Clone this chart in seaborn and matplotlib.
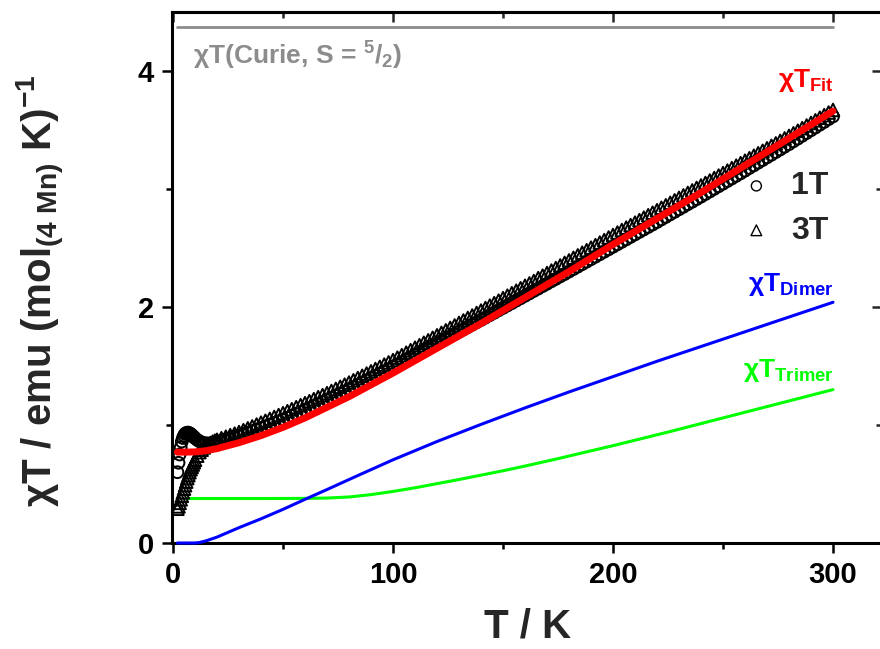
import matplotlib
matplotlib.use("Agg")
import matplotlib.pyplot as plt
from matplotlib import font_manager
from matplotlib.ticker import MultipleLocator
import seaborn as sns
import pandas as pd

# ---------------- data ----------------
T_data = [2, 2.5, 3, 3.5, 4, 4.5, 5, 5.5, 6, 6.5, 7, 7.5, 8, 8.5, 9, 9.5, 10,
          11, 12, 13, 14, 15, 16, 17, 18, 19, 20,
          22, 24, 26, 28, 30, 32, 34, 36, 38, 40,
          42, 44, 46, 48, 50, 52, 54, 56, 58, 60,
          62, 64, 66, 68, 70, 72, 74, 76, 78, 80,
          82, 84, 86, 88, 90, 92, 94, 96, 98, 100,
          102, 104, 106, 108, 110, 112, 114, 116, 118, 120,
          122, 124, 126, 128, 130, 132, 134, 136, 138, 140,
          142, 144, 146, 148, 150, 152, 154, 156, 158, 160,
          162, 164, 166, 168, 170, 172, 174, 176, 178, 180,
          182, 184, 186, 188, 190, 192, 194, 196, 198, 200,
          202, 204, 206, 208, 210, 212, 214, 216, 218, 220,
          222, 224, 226, 228, 230, 232, 234, 236, 238, 240,
          242, 244, 246, 248, 250, 252, 254, 256, 258, 260,
          262, 264, 266, 268, 270, 272, 274, 276, 278, 280,
          282, 284, 286, 288, 290, 292, 294, 296, 298, 300]

chiT_1T = [0.60, 0.68, 0.75, 0.81, 0.86, 0.89, 0.91, 0.925, 0.932, 0.935, 0.935, 0.93, 0.924, 0.916, 0.907, 0.898, 0.889,
           0.874, 0.862, 0.853, 0.847, 0.844, 0.843, 0.844, 0.846, 0.85, 0.855,
           0.866, 0.877, 0.888, 0.899, 0.91, 0.923, 0.936, 0.949, 0.962, 0.975,
           0.989, 1.003, 1.017, 1.031, 1.045, 1.061, 1.077, 1.093, 1.109, 1.125,
           1.142, 1.159, 1.176, 1.193, 1.21, 1.228, 1.246, 1.264, 1.282, 1.30,
           1.319, 1.338, 1.357, 1.376, 1.395, 1.414, 1.433, 1.452, 1.471, 1.49,
           1.51, 1.53, 1.55, 1.57, 1.59, 1.61, 1.63, 1.65, 1.67, 1.69,
           1.71, 1.73, 1.75, 1.77, 1.79, 1.81, 1.83, 1.85, 1.87, 1.89,
           1.91, 1.931, 1.951, 1.972, 1.992, 2.013, 2.033, 2.054, 2.074, 2.095,
           2.115, 2.136, 2.156, 2.177, 2.197, 2.218, 2.238, 2.259, 2.279, 2.30,
           2.321, 2.342, 2.363, 2.384, 2.405, 2.426, 2.447, 2.468, 2.489, 2.51,
           2.531, 2.552, 2.573, 2.594, 2.615, 2.636, 2.657, 2.678, 2.699, 2.72,
           2.742, 2.763, 2.785, 2.806, 2.828, 2.849, 2.871, 2.892, 2.914, 2.935,
           2.957, 2.979, 3.001, 3.023, 3.045, 3.067, 3.089, 3.111, 3.133, 3.155,
           3.178, 3.20, 3.223, 3.245, 3.268, 3.29, 3.313, 3.335, 3.358, 3.38,
           3.404, 3.427, 3.451, 3.474, 3.498, 3.521, 3.545, 3.568, 3.592, 3.615]

chiT_3T = [0.29, 0.31, 0.34, 0.37, 0.40, 0.43, 0.46, 0.49, 0.52, 0.55, 0.575, 0.60, 0.625, 0.645, 0.665, 0.685, 0.705,
           0.74, 0.77, 0.79, 0.81, 0.825, 0.837, 0.848, 0.858, 0.867, 0.875,
           0.888, 0.901, 0.914, 0.927, 0.94, 0.956, 0.972, 0.988, 1.004, 1.02,
           1.036, 1.052, 1.068, 1.084, 1.10, 1.117, 1.134, 1.151, 1.168, 1.185,
           1.202, 1.219, 1.236, 1.253, 1.27, 1.288, 1.306, 1.324, 1.342, 1.36,
           1.379, 1.398, 1.417, 1.436, 1.455, 1.474, 1.493, 1.512, 1.531, 1.55,
           1.571, 1.592, 1.613, 1.634, 1.655, 1.676, 1.697, 1.718, 1.739, 1.76,
           1.781, 1.802, 1.823, 1.844, 1.865, 1.886, 1.907, 1.928, 1.949, 1.97,
           1.991, 2.012, 2.033, 2.054, 2.075, 2.096, 2.117, 2.138, 2.159, 2.18,
           2.20, 2.22, 2.245, 2.266, 2.288, 2.309, 2.33, 2.352, 2.374, 2.395,
           2.417, 2.438, 2.46, 2.481, 2.503, 2.524, 2.546, 2.567, 2.589, 2.61,
           2.631, 2.652, 2.673, 2.694, 2.715, 2.736, 2.757, 2.778, 2.799, 2.82,
           2.841, 2.862, 2.883, 2.904, 2.925, 2.946, 2.967, 2.988, 3.009, 3.03,
           3.051, 3.072, 3.093, 3.114, 3.135, 3.156, 3.177, 3.198, 3.219, 3.24,
           3.261, 3.282, 3.303, 3.324, 3.345, 3.366, 3.387, 3.408, 3.429, 3.45,
           3.472, 3.494, 3.516, 3.538, 3.56, 3.582, 3.604, 3.626, 3.648, 3.67]

T_fit = [2, 5, 10, 15, 20, 30, 40, 50, 60, 70, 80, 90, 100, 120, 140, 160, 180, 200, 220, 240, 260, 280, 300]
chiT_fit = [0.77, 0.77, 0.772, 0.782, 0.80, 0.85, 0.91, 0.98, 1.06, 1.15, 1.24, 1.34, 1.44, 1.65, 1.86, 2.08,
            2.30, 2.53, 2.75, 2.97, 3.20, 3.43, 3.66]

T_dimer = [2, 5, 10, 12, 15, 20, 25, 30, 40, 50, 60, 70, 85, 100, 120, 140, 160, 180, 200, 220, 240, 260, 280, 300]
chiT_dimer = [0.0, 0.0, 0.0, 0.004, 0.018, 0.05, 0.09, 0.13, 0.205, 0.285, 0.37, 0.453, 0.58, 0.705, 0.86, 1.005,
              1.145, 1.28, 1.41, 1.54, 1.665, 1.79, 1.915, 2.04]

T_trimer = [6, 20, 40, 60, 70, 80, 90, 100, 110, 120, 130, 140, 150, 160, 175, 200, 225, 250, 275, 300]
chiT_trimer = [0.377, 0.377, 0.377, 0.378, 0.381, 0.39, 0.41, 0.437, 0.468, 0.503, 0.538, 0.575, 0.612, 0.652,
               0.715, 0.825, 0.94, 1.06, 1.18, 1.30]

T_curie = [2, 300]
chiT_curie = [4.375, 4.375]

x_ticks = [0, 100, 200, 300]
y_ticks = [0, 2, 4]

# ---------------- style ----------------
sns.set_theme(style="ticks")
names = {f.name for f in font_manager.fontManager.ttflist}
fam = "Liberation Sans Narrow" if "Liberation Sans Narrow" in names else "Liberation Sans"
plt.rcParams["font.family"] = [fam, "DejaVu Sans"]
plt.rcParams["font.weight"] = "bold"
plt.rcParams["mathtext.fontset"] = "custom"
for k in ("rm", "it", "bf", "sf"):
    plt.rcParams["mathtext." + k] = fam + ":bold"
plt.rcParams["mathtext.default"] = "bf"

fig = plt.figure(figsize=(8.8, 6.49), dpi=100)
ax = fig.add_axes([0.19534, 0.16333, 0.8075, 0.81818])
ax.set_xlim(-0.5, 322.5)
ax.set_ylim(0, 4.5)

df = pd.DataFrame({"T": T_data, "c1": chiT_1T, "c3": chiT_3T})

# model components (under the markers)
sns.lineplot(x=T_trimer, y=chiT_trimer, ax=ax, color="#00ff00", lw=2.2, zorder=3, clip_on=False)
sns.lineplot(x=T_dimer, y=chiT_dimer, ax=ax, color="#0000ff", lw=2.2, zorder=3, clip_on=False)
sns.lineplot(x=T_curie, y=chiT_curie, ax=ax, color="#8c8c8c", lw=2.0, zorder=3)

# data
sns.scatterplot(data=df, x="T", y="c3", ax=ax, marker="^", s=82, facecolor="none",
                edgecolor="black", linewidth=1.4, zorder=4, label="3T")
sns.scatterplot(data=df, x="T", y="c1", ax=ax, marker="o", s=72, facecolor="none",
                edgecolor="black", linewidth=1.4, zorder=4, label="1T")

# fit
sns.lineplot(x=T_fit, y=chiT_fit, ax=ax, color="#ff0000", lw=5.0, zorder=5,
             solid_capstyle="round")

# ---------------- axes ----------------
for s in ax.spines.values():
    s.set_linewidth(2.2)
    s.set_color("black")
ax.xaxis.set_major_locator(MultipleLocator(100))
ax.xaxis.set_minor_locator(MultipleLocator(50))
ax.yaxis.set_major_locator(MultipleLocator(2))
ax.yaxis.set_minor_locator(MultipleLocator(1))
ax.set_xticks(x_ticks)
ax.set_yticks(y_ticks)
ax.tick_params(which="both", direction="out", width=1.8, colors="black", labelsize=21,
               top=False, right=False)
ax.tick_params(which="major", length=7, pad=6)
ax.tick_params(which="minor", length=4)
for lab in ax.get_xticklabels() + ax.get_yticklabels():
    lab.set_fontweight("bold")

secx = ax.secondary_xaxis("top")
secx.xaxis.set_major_locator(MultipleLocator(100))
secx.xaxis.set_minor_locator(MultipleLocator(50))
secx.tick_params(which="both", direction="in", width=1.8, labeltop=False)
secx.tick_params(which="major", length=7)
secx.tick_params(which="minor", length=4)
secx.spines["top"].set_linewidth(2.2)
secy = ax.secondary_yaxis("right")
secy.yaxis.set_major_locator(MultipleLocator(2))
secy.yaxis.set_minor_locator(MultipleLocator(1))
secy.tick_params(which="both", direction="in", width=1.8, labelright=False)
secy.tick_params(which="major", length=7)
secy.tick_params(which="minor", length=4)

ax.set_xlabel("T / K", fontsize=29, fontweight="bold", labelpad=13)
ax.set_ylabel("χT / emu (mol$_{(4\\ Mn)}$ K)$^{-1}$", fontsize=29, fontweight="bold")
ax.yaxis.set_label_coords(-0.148, 0.475)

# legend
h, l = ax.get_legend_handles_labels()
order = [l.index("1T"), l.index("3T")]
leg = ax.legend([h[i] for i in order], [l[i] for i in order], loc="upper left",
                bbox_to_anchor=(0.80, 0.70), frameon=False, fontsize=23,
                handlelength=1.0, handletextpad=0.6, borderpad=0, borderaxespad=0,
                labelspacing=0.45, markerscale=0.85)
for t in leg.get_texts():
    t.set_fontweight("bold")
for lh in leg.legend_handles:
    lh.set_linewidth(1.0)

# annotations
ax.text(9, 4.05, "χT(Curie, S = $^{5}$/$_{2}$)", color="#8c8c8c", fontsize=19,
        fontweight="bold", ha="left", va="baseline")
ax.text(300.5, 3.865, "χT$_{Fit}$", color="#ff0000", fontsize=19, fontweight="bold",
        ha="right", va="baseline")
ax.text(300.5, 2.136, "χT$_{Dimer}$", color="#0000ff", fontsize=19, fontweight="bold",
        ha="right", va="baseline")
ax.text(300.5, 1.407, "χT$_{Trimer}$", color="#00ff00", fontsize=19, fontweight="bold",
        ha="right", va="baseline")

fig.savefig("out.png", dpi=100)
